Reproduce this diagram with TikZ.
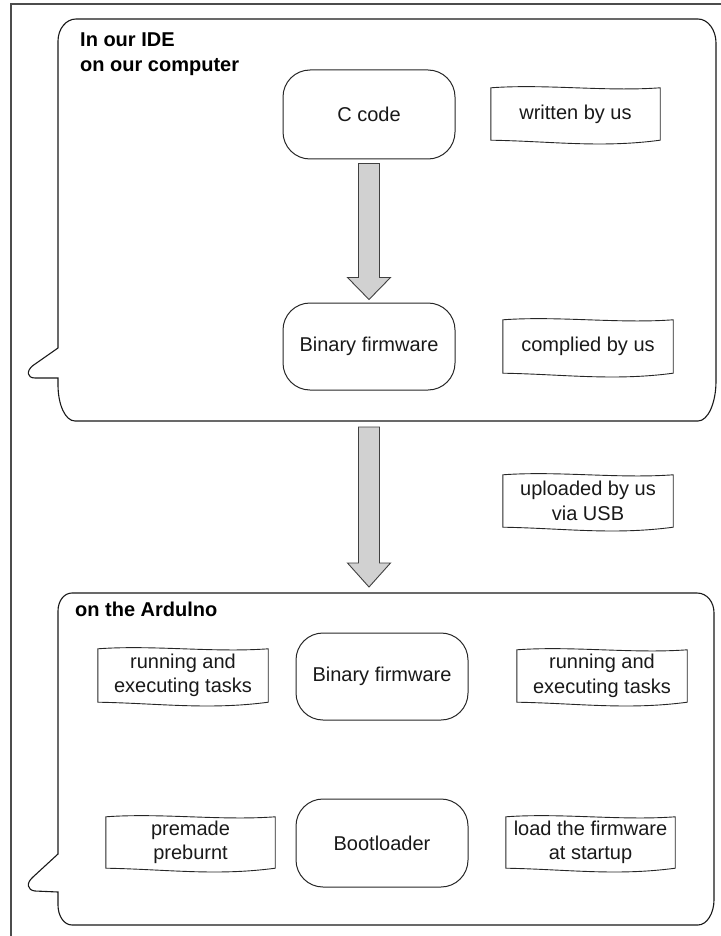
\documentclass[tikz,border=0pt]{standalone}
\usepackage{fontspec}
\setmainfont{Liberation Sans}
\usetikzlibrary{calc}
\begin{document}
\begin{tikzpicture}[x=1pt,y=-1pt,
  proc/.style={draw=black!85, line width=1pt, rounded corners=27pt, minimum width=172pt, minimum height=88pt, font=\fontsize{20}{24}\selectfont, text=black!90, inner sep=0pt},
  note/.style={minimum width=170pt, minimum height=52pt, align=center, font=\fontsize{20}{24.5}\selectfont, text=black!90, inner sep=0pt},
  wavy/.style={draw=black!85, line width=0.9pt},
  callout/.style={draw=black!90, line width=1.1pt},
  blockarrowstyle/.style={draw=black!75, fill=black!18, line width=0.9pt, line join=miter},
  boxtitle/.style={font=\bfseries\fontsize{20}{25}\selectfont, anchor=base west, inner sep=0pt, text=black},
  frame/.style={draw=black!70, line width=1.3pt}
]
\useasboundingbox (0,0) rectangle (720,936);

% outer frame (cut by the page)
\draw[frame] (11,945) -- (11,4) -- (730,4);

% ---- top callout box ----
\draw[callout] (58,348) -- (58,41) .. controls (58,29) and (66,19) .. (76,19)
  -- (698,19) .. controls (708,19) and (716,30) .. (716,43)
  -- (716,381) .. controls (716,403) and (708,421) .. (698,421)
  -- (75,421) .. controls (65,421) and (58,404) .. (58,385)
  -- (58,378) -- (35,378) .. controls (27,378) and (26,371) .. (33,365.5) -- cycle;

\node[boxtitle] (title1) at (80,47) {In our IDE};
\node[boxtitle] (title1b) at (80,72) {on our computer};

% ---- bottom callout box ----
\draw[callout] (58,854) -- (58,611) .. controls (58,601) and (64,593) .. (72,593)
  -- (697,593) .. controls (707,593) and (714,602) .. (714,613)
  -- (714,900) .. controls (714,913) and (707,925) .. (698,925)
  -- (72,925) .. controls (64,925) and (58,916) .. (58,905)
  -- (58,892) -- (35,891) .. controls (27,890) and (26,883) .. (33,877) -- cycle;

\node[boxtitle] (title2) at (75,616) {on the Ardulno};

\coordinate (topboxbottom) at (369,421);
\coordinate (botboxtop) at (369,593);

% ---- process nodes ----
\node[proc, minimum height=89pt] (ccode) at (369,114.5) {C code};
\node[proc, minimum height=87pt] (bin1) at (369,346.5) {Binary firmware};
\node[proc, minimum height=87pt] (bin2) at (382,676.5) {Binary firmware};
\node[proc] (boot) at (382,843) {Bootloader};

% ---- notes ----
\newcommand\wavyframe[1]{%
  \draw[wavy] (#1.north west) .. controls +(55,-4) and +(-55,4) .. (#1.north east)
    -- (#1.south east) .. controls +(-60,8) and +(60,1) .. (#1.south west) -- cycle;}

\node[note, minimum width=169pt] (written) at (575.5,114) {written by us};
\node[note, minimum height=53pt] (complied) at (588,346.5) {complied by us};
\node[note] (uploaded) at (588,501) {uploaded by us\\via USB};
\node[note, minimum height=53pt] (runL) at (183,675.5) {running and\\executing tasks};
\node[note, minimum width=169pt, minimum height=51pt] (premade) at (190.5,842.5) {premade\\preburnt};
\node[note] (runR) at (602,676) {running and\\executing tasks};
\node[note, minimum width=169pt, minimum height=51pt] (load) at (590.5,842.5) {load the firmware\\at startup};

\wavyframe{written}
\wavyframe{complied}
\wavyframe{uploaded}
\wavyframe{runL}
\wavyframe{premade}
\wavyframe{runR}
\wavyframe{load}

% ---- block arrows ----
% #1 from, #2 to, #3 start gap, #4 tip gap, #5 head length
\newcommand\blockarrow[5]{%
  \draw[blockarrowstyle] ($(#1)+(-10.5,#3)$) -- ($(#2)+(-10.5,-#5-#4)$) -- ($(#2)+(-21.5,-#5-#4)$)
    -- ($(#2)+(0,-#4)$) -- ($(#2)+(21.5,-#5-#4)$) -- ($(#2)+(10.5,-#5-#4)$)
    -- ($(#1)+(10.5,#3)$) -- cycle;}

\blockarrow{ccode.south}{bin1.north}{4}{3}{22}
\blockarrow{topboxbottom}{botboxtop}{6}{6}{24}

\end{tikzpicture}
\end{document}
